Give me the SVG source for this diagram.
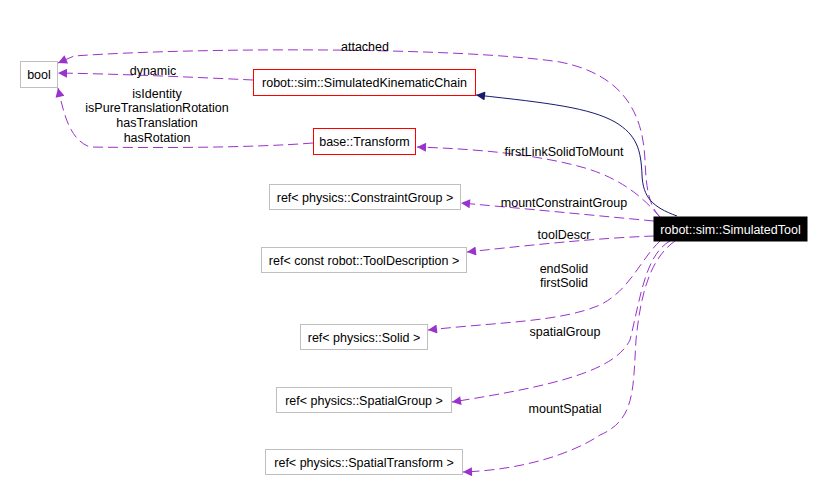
<svg xmlns="http://www.w3.org/2000/svg" width="824" height="492" viewBox="0 0 824 492">
<defs>
<style>
.n rect{fill:#fff;stroke:#bfbfbf;stroke-width:1}
.n.b rect{fill:#000;stroke:#000}
text{font-family:"Liberation Sans",Arial,sans-serif;font-size:12.5px;fill:#000}
.n text{text-anchor:middle}
.n.b text{fill:#fff}
.e path{fill:none;stroke:#9a32cd;stroke-width:1;stroke-dasharray:10,5}
.e path.inh{stroke:#191970;stroke-dasharray:none}
.lbl{text-anchor:middle}
</style>
<marker id="ap" viewBox="0 0 10 10" refX="10" refY="5" markerWidth="15" markerHeight="9" markerUnits="userSpaceOnUse" orient="auto"><path d="M0,0 L10,5 L0,10 Z" fill="#9a32cd"/></marker>
<marker id="an" viewBox="0 0 10 10" refX="10" refY="5" markerWidth="15" markerHeight="9" markerUnits="userSpaceOnUse" orient="auto"><path d="M0,0 L10,5 L0,10 Z" fill="#191970"/></marker>
</defs>
<rect width="824" height="492" fill="#fff"/>
<g id="connectors" class="e">
<path d="M660,217 C648,205 646,185 645,160 C643,115 625,75 560,62 C460,47 200,47 74,56 L58,63" marker-end="url(#ap)"/>
<path d="M253,80 C190,77 120,74 58,73" marker-end="url(#ap)"/>
<path d="M313,143 C250,148 150,148 90,147 C70,140 64,115 58,88" marker-end="url(#ap)"/>
<path class="inh" d="M677,216 C652,207 643,197 642,175 C641,150 637,135 615,122 C590,108 550,103 476,95" marker-end="url(#an)"/>
<path d="M660,217 C645,200 625,180 585,168 C540,155 480,149 417,147" marker-end="url(#ap)"/>
<path d="M654,221 C600,216 540,210 461,203" marker-end="url(#ap)"/>
<path d="M654,236 C600,238 540,244 467,252" marker-end="url(#ap)"/>
<path d="M660,241 C640,260 630,290 600,305 C560,322 500,322 428,330" marker-end="url(#ap)"/>
<path d="M670,241 C645,255 640,300 630,340 C615,370 560,385 452,402" marker-end="url(#ap)"/>
<path d="M675,241 C648,260 640,300 636,340 C633,390 635,420 600,435 C570,455 520,470 463,472" marker-end="url(#ap)"/>
</g>
<g id="labels">
<text class="lbl" x="365" y="51">attached</text>
<text class="lbl" x="153" y="75">dynamic</text>
<text class="lbl" x="157" y="98">isIdentity</text>
<text class="lbl" x="157" y="112">isPureTranslationRotation</text>
<text class="lbl" x="157" y="127">hasTranslation</text>
<text class="lbl" x="157" y="142">hasRotation</text>
<text class="lbl" x="564" y="156">firstLinkSolidToMount</text>
<text class="lbl" x="564" y="207">mountConstraintGroup</text>
<text class="lbl" x="564" y="239">toolDescr</text>
<text class="lbl" x="564" y="273">endSolid</text>
<text class="lbl" x="564" y="287">firstSolid</text>
<text class="lbl" x="565" y="336">spatialGroup</text>
<text class="lbl" x="565" y="413">mountSpatial</text>
</g>
<g id="bool" class="n"><rect x="20.5" y="61.5" width="37" height="26"/><text x="39" y="79">bool</text></g>
<g id="kinematicChain" class="n"><rect x="253.5" y="69.5" width="222" height="26" style="stroke:#ff0000"/><text x="364.5" y="87">robot::sim::SimulatedKinematicChain</text></g>
<g id="transform" class="n"><rect x="313.5" y="128.5" width="102" height="26" style="stroke:#ff0000"/><text x="364.5" y="146">base::Transform</text></g>
<g id="constraintGroup" class="n"><rect x="269.5" y="184.5" width="191" height="25"/><text x="365" y="202">ref&lt; physics::ConstraintGroup &gt;</text></g>
<g id="toolDescription" class="n"><rect x="261.5" y="247.5" width="205" height="25"/><text x="364" y="265">ref&lt; const robot::ToolDescription &gt;</text></g>
<g id="solid" class="n"><rect x="300.5" y="324.5" width="127" height="25"/><text x="364" y="342">ref&lt; physics::Solid &gt;</text></g>
<g id="spatialGroup" class="n"><rect x="276.5" y="387.5" width="175" height="25"/><text x="364" y="405">ref&lt; physics::SpatialGroup &gt;</text></g>
<g id="spatialTransform" class="n"><rect x="265.5" y="449.5" width="197" height="25"/><text x="364" y="467">ref&lt; physics::SpatialTransform &gt;</text></g>
<g id="simulatedTool" class="n b"><rect x="654" y="217" width="153" height="24"/><text x="730.5" y="233.5">robot::sim::SimulatedTool</text></g>
</svg>
